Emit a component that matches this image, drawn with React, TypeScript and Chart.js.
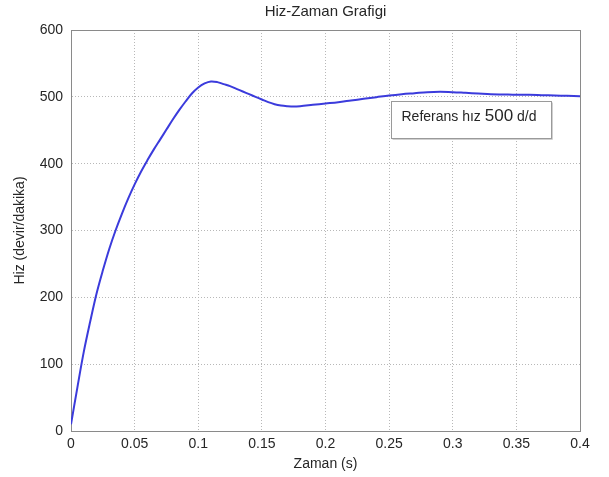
import React, { useEffect, useRef } from "react";
import { Chart, registerables } from "chart.js";

Chart.register(...registerables);

const timeValues = [
  0, 0.005, 0.01, 0.015, 0.02, 0.025, 0.03, 0.035, 0.04, 0.045, 0.05, 0.055,
  0.06, 0.065, 0.07, 0.075, 0.08, 0.085, 0.09, 0.095, 0.1, 0.105, 0.11, 0.115,
  0.12, 0.125, 0.13, 0.135, 0.14, 0.145, 0.15, 0.155, 0.16, 0.165, 0.17, 0.175,
  0.18, 0.19, 0.2, 0.21, 0.22, 0.23, 0.24, 0.25, 0.26, 0.27, 0.28, 0.29, 0.3,
  0.31, 0.32, 0.33, 0.34, 0.35, 0.36, 0.37, 0.38, 0.39, 0.4,
];
const speedValues = [
  10, 65, 118, 163, 205, 240, 272, 300, 325, 348, 369, 388,
  405, 421, 436, 451, 466, 480, 493, 505, 514, 520, 523, 522,
  519, 516, 512, 508, 504, 500, 496, 492, 489, 487, 486, 485.5,
  486, 488, 490, 492, 494.5, 497, 499.5, 502, 504, 505.5, 507, 507.5, 507,
  506, 505, 504, 503.5, 503, 503, 502.5, 502, 501.5, 501,
];
const xTickValues = [0, 0.05, 0.1, 0.15, 0.2, 0.25, 0.3, 0.35, 0.4];
const xTickLabels = ["0", "0.05", "0.1", "0.15", "0.2", "0.25", "0.3", "0.35", "0.4"];
const yTickValues = [0, 100, 200, 300, 400, 500, 600];
const yTickLabels = ["0", "100", "200", "300", "400", "500", "600"];

const titleText = "Hiz-Zaman Grafigi";
const xTitle = "Zaman (s)";
const yTitle = "Hiz (devir/dakika)";
const noteParts = ["Referans hız ", "500", " d/d"];

const FONT = "Arial, 'Liberation Sans', Helvetica, sans-serif";
const TEXT = "#262626";

const framePlugin = {
  id: "frame",
  beforeDatasetsDraw(chart: any) {
    const { ctx, chartArea } = chart;
    ctx.save();
    ctx.strokeStyle = "#8a8a8a";
    ctx.lineWidth = 1;
    ctx.strokeRect(
      Math.round(chartArea.left) + 0.5,
      Math.round(chartArea.top) + 0.5,
      Math.round(chartArea.right - chartArea.left),
      Math.round(chartArea.bottom - chartArea.top)
    );
    ctx.restore();
  },
  afterDraw(chart: any) {
    const { ctx, chartArea } = chart;
    const bx = chartArea.left + 320.5;
    const by = chartArea.top + 71.5;
    const bw = 160;
    const bh = 37;
    ctx.save();
    ctx.fillStyle = "#ffffff";
    ctx.fillRect(bx, by, bw, bh);
    ctx.strokeStyle = "#9a9a9a";
    ctx.lineWidth = 1;
    ctx.strokeRect(bx, by, bw, bh);
    ctx.strokeStyle = "#d0d0d0";
    ctx.beginPath();
    ctx.moveTo(bx + bw + 1, by + 1);
    ctx.lineTo(bx + bw + 1, by + bh + 1);
    ctx.lineTo(bx + 1, by + bh + 1);
    ctx.stroke();
    ctx.fillStyle = TEXT;
    ctx.textBaseline = "alphabetic";
    let x = bx + 10;
    const baseY = by + 19;
    ctx.font = `14px ${FONT}`;
    ctx.fillText(noteParts[0], x, baseY);
    x += ctx.measureText(noteParts[0]).width;
    ctx.font = `17px ${FONT}`;
    ctx.fillText(noteParts[1], x, baseY);
    x += ctx.measureText(noteParts[1]).width;
    ctx.font = `14px ${FONT}`;
    ctx.fillText(noteParts[2], x, baseY);
    ctx.restore();
  },
};

export default function App() {
  const ref = useRef<HTMLCanvasElement | null>(null);
  useEffect(() => {
    if (!ref.current) return;
    const chart = new Chart(ref.current, {
      type: "line",
      data: {
        datasets: [
          {
            data: timeValues.map((t, i) => ({ x: t, y: speedValues[i] })),
            borderColor: "#3b3bdc",
            borderWidth: 2,
            pointRadius: 0,
            tension: 0.35,
            fill: false,
          },
        ],
      },
      options: {
        animation: false,
        responsive: false,
        layout: { padding: { left: 0, right: 29, top: 0, bottom: 0 } },
        plugins: {
          legend: { display: false },
          tooltip: { enabled: false },
          title: {
            display: true,
            text: titleText,
            fullSize: false,
            color: TEXT,
            font: { family: FONT, size: 15, weight: "normal" },
            padding: { top: 3, bottom: 9 },
          },
        },
        scales: {
          x: {
            type: "linear",
            min: 0,
            max: 0.4,
            afterBuildTicks: (s: any) => {
              s.ticks = xTickValues.map((v) => ({ value: v }));
            },
            afterFit: (s: any) => {
              s.height = 46;
            },
            ticks: {
              autoSkip: false,
              maxRotation: 0,
              padding: 5,
              color: TEXT,
              font: { family: FONT, size: 14 },
              callback: (_v: any, i: number) => xTickLabels[i],
            },
            grid: { color: "#b8b8b8", drawTicks: false, lineWidth: 1 },
            border: { display: true, color: "#8a8a8a", dash: [1, 2] },
            title: {
              display: true,
              text: xTitle,
              color: TEXT,
              font: { family: FONT, size: 14 },
              padding: { top: 0, bottom: 4.6 },
            },
          },
          y: {
            type: "linear",
            min: 0,
            max: 600,
            afterBuildTicks: (s: any) => {
              s.ticks = yTickValues.map((v) => ({ value: v }));
            },
            afterFit: (s: any) => {
              s.width = 71;
            },
            ticks: {
              autoSkip: false,
              padding: 8,
              color: TEXT,
              font: { family: FONT, size: 14 },
              callback: (_v: any, i: number) => yTickLabels[i],
            },
            grid: { color: "#b8b8b8", drawTicks: false, lineWidth: 1 },
            border: { display: true, color: "#8a8a8a", dash: [1, 2] },
            title: {
              display: true,
              text: yTitle,
              color: TEXT,
              font: { family: FONT, size: 14 },
              padding: { top: 11.6, bottom: 0 },
            },
          },
        },
      },
      plugins: [framePlugin],
    });
    return () => chart.destroy();
  }, []);
  return (
    <div style={{ position: "fixed", left: 0, top: 0, width: 609, height: 477, background: "#fff" }}>
      <canvas ref={ref} width={609} height={477} />
    </div>
  );
}
